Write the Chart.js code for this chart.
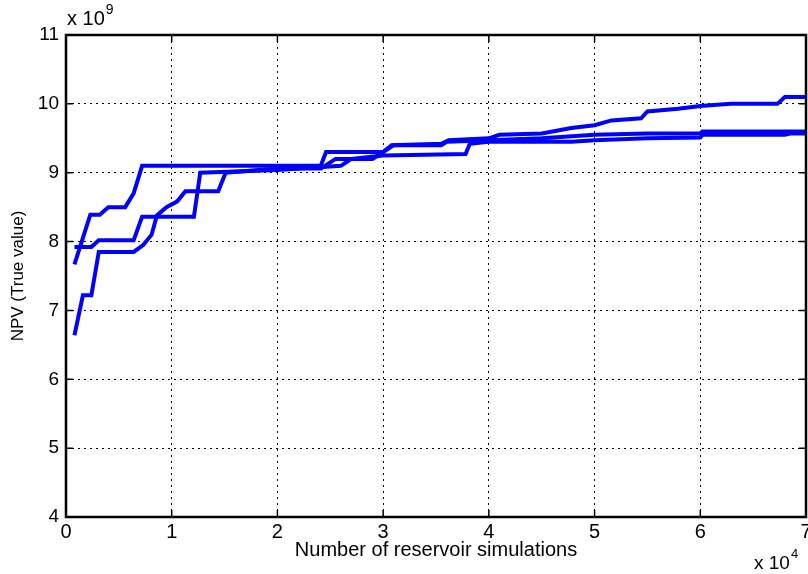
<!DOCTYPE html>
<html>
<head>
<meta charset="utf-8">
<script src="https://cdn.jsdelivr.net/npm/chart.js@4.4.1/dist/chart.umd.min.js"></script>
<style>
html,body{margin:0;padding:0;background:#fff;}
#wrap{width:808px;height:574px;position:relative;}
</style>
</head>
<body>
<div id="wrap"><canvas id="c" width="808" height="574"></canvas></div>
<script>
// Values: x in units of 1e4 simulations, y in units of 1e9 (NPV)
const xTicks = [0,1,2,3,4,5,6,7];
const yTicks = [4,5,6,7,8,9,10,11];
const xExp = "4";
const yExp = "9";

const run1X = [0.08,0.23,0.32,0.40,0.56,0.64,0.72,2.41,2.46,3.0,3.08,3.55,3.62,4.0,4.1,4.5,4.78,5.0,5.16,5.44,5.5,5.79,6.0,6.29,6.73,6.8,7.0];
const run1Y = [7.67,8.39,8.39,8.5,8.5,8.7,9.1,9.1,9.3,9.3,9.4,9.42,9.47,9.5,9.55,9.57,9.65,9.69,9.76,9.79,9.89,9.93,9.97,10.0,10.0,10.1,10.1];

const run2X = [0.08,0.24,0.31,0.64,0.72,1.21,1.27,2.0,2.6,2.7,3.0,3.78,3.82,4.0,4.78,5.0,5.5,6.0,6.02,6.8,6.85,7.0];
const run2Y = [7.92,7.92,8.02,8.02,8.36,8.36,9.0,9.04,9.1,9.2,9.25,9.27,9.42,9.45,9.45,9.47,9.5,9.51,9.55,9.55,9.57,9.57];

const run3X = [0.08,0.16,0.24,0.31,0.64,0.73,0.81,0.86,0.95,1.05,1.13,1.44,1.51,2.0,2.41,2.55,2.9,3.0,3.1,3.55,3.6,4.0,4.5,5.0,5.5,6.0,6.02,7.0];
const run3Y = [6.64,7.22,7.22,7.85,7.85,7.95,8.1,8.38,8.5,8.58,8.73,8.73,9.0,9.06,9.06,9.2,9.2,9.3,9.4,9.4,9.45,9.47,9.5,9.55,9.57,9.57,9.6,9.6];

const runs = [[run1X,run1Y],[run2X,run2Y],[run3X,run3Y]];

const BLUE = 'rgb(0,0,255)';
const datasets = runs.map(([xs,ys]) => ({
  data: xs.map((x,i)=>({x:x,y:ys[i]})),
  borderColor: BLUE,
  borderWidth: 4,
  pointRadius: 0,
  tension: 0,
  fill: false
}));

const boxPlugin = {
  id: 'box',
  afterDraw(chart){
    const {ctx, chartArea:a, scales} = chart;
    ctx.save();
    ctx.strokeStyle = '#000';
    ctx.lineWidth = 1.5;
    const tl = 7;
    xTicks.forEach(v=>{
      const px = scales.x.getPixelForValue(v);
      ctx.beginPath();
      ctx.moveTo(px,a.bottom); ctx.lineTo(px,a.bottom-tl);
      ctx.moveTo(px,a.top); ctx.lineTo(px,a.top+tl);
      ctx.stroke();
    });
    yTicks.forEach(v=>{
      const py = scales.y.getPixelForValue(v);
      ctx.beginPath();
      ctx.moveTo(a.left,py); ctx.lineTo(a.left+tl,py);
      ctx.moveTo(a.right,py); ctx.lineTo(a.right-tl,py);
      ctx.stroke();
    });
    ctx.lineWidth = 2.5;
    ctx.strokeRect(a.left, a.top, a.right-a.left, a.bottom-a.top);
    ctx.fillStyle = '#000';
    ctx.textBaseline = 'alphabetic';
    ctx.textAlign = 'left';
    ctx.font = '20px "Liberation Sans", Arial, sans-serif';
    ctx.fillText('x 10', 67, 25);
    let w = ctx.measureText('x 10').width;
    ctx.font = '14px "Liberation Sans", Arial, sans-serif';
    ctx.fillText(yExp, 67+w+1, 14);
    ctx.font = '19px "Liberation Sans", Arial, sans-serif';
    ctx.fillText('x 10', 754, 569);
    w = ctx.measureText('x 10').width;
    ctx.font = '13px "Liberation Sans", Arial, sans-serif';
    ctx.fillText(xExp, 754+w+1, 558);
    ctx.restore();
  }
};

new Chart(document.getElementById('c'), {
  type: 'line',
  data: { datasets },
  plugins: [boxPlugin],
  options: {
    responsive: false,
    animation: false,
    layout: { padding: { top: 35, right: 2, left: 0, bottom: 0 } },
    plugins: { legend: { display: false }, tooltip: { enabled: false } },
    scales: {
      x: {
        type: 'linear', min: 0, max: 7,
        afterBuildTicks(s){ s.ticks = xTicks.map(v=>({value:v})); },
        afterFit(s){ s.height = 57; s.paddingRight = 0; s.paddingLeft = 0; },
        grid: { color: '#000', lineWidth: 1, drawTicks: false },
        border: { display: false, dash: [2,4] },
        ticks: {
          padding: 3, color: '#000',
          font: { family: '"Liberation Sans", Arial', size: 20 },
          maxRotation: 0, autoSkip: false
        },
        title: {
          display: true, text: 'Number of reservoir simulations', color: '#000',
          font: { family: '"Liberation Sans", Arial', size: 20 },
          padding: { top: 0, bottom: 12 }
        }
      },
      y: {
        type: 'linear', min: 4, max: 11,
        afterBuildTicks(s){ s.ticks = yTicks.map(v=>({value:v})); },
        afterFit(s){ s.width = 66; s.paddingTop = 0; s.paddingBottom = 0; },
        grid: { color: '#000', lineWidth: 1, drawTicks: false },
        border: { display: false, dash: [2,4] },
        ticks: {
          padding: 7, color: '#000',
          font: { family: '"Liberation Sans", Arial', size: 19 }
        },
        title: {
          display: true, text: 'NPV (True value)', color: '#000',
          font: { family: '"Liberation Sans", Arial', size: 17 },
          padding: { top: 8, bottom: 0 }
        }
      }
    }
  }
});
</script>
</body>
</html>
